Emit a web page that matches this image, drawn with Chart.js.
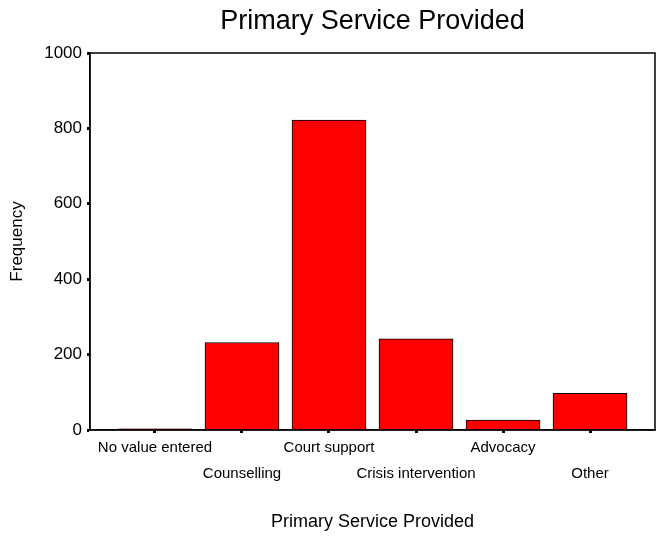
<!DOCTYPE html>
<html>
<head>
<meta charset="utf-8">
<script src="https://cdn.jsdelivr.net/npm/chart.js@4"></script>
<style>
  html, body { margin: 0; padding: 0; background: #fff; }
  #wrap { width: 658px; height: 539px; }
</style>
</head>
<body>
<div id="wrap"><canvas id="myChart"></canvas></div>
<script>
const categories = ['No value entered', 'Counselling', 'Court support', 'Crisis intervention', 'Advocacy', 'Other'];
const frequency = [3, 232, 822, 242, 26, 97];
const yTicks = [0, 200, 400, 600, 800, 1000];

const ctx = document.getElementById('myChart').getContext('2d');
Chart.defaults.font.family = '"Liberation Sans", Arial, sans-serif';
Chart.defaults.color = '#000';

// box round the plot area, top and right sides too
const frame = {
    id: 'frame',
    afterLayout(chart) {
        // centre the title over the plot area, not the whole canvas
        const t = chart.titleBlock;
        if (t) {
            t.left = chart.chartArea.left;
            t.right = chart.chartArea.right;
            t.width = t.right - t.left;
        }
    },
    afterDraw(chart) {
        const a = chart.chartArea;
        const c = chart.ctx;
        c.save();
        c.strokeStyle = '#000';
        c.lineWidth = 1.5;
        c.strokeRect(a.left, a.top, a.right - a.left, a.bottom - a.top);
        c.restore();
    }
};

const points = [];
for (let i = 0; i < categories.length; i++) {
    points.push({ x: i, y: frequency[i] });
}

const config = {
    type: 'bar',
    data: {
        datasets: [{
            label: 'Frequency',
            data: points,
            backgroundColor: '#ff0000',
            borderColor: '#000',
            borderWidth: 1,
            barThickness: 74,
        }]
    },
    options: {
        responsive: true,
        maintainAspectRatio: false,
        animation: false,
        layout: { padding: { right: 3 } },
        plugins: {
            legend: { display: false },
            tooltip: { enabled: false },
            title: {
                display: true,
                text: 'Primary Service Provided',
                font: { size: 27, weight: 'normal' },
                padding: { top: 5, bottom: 15.6 },
            },
        },
        scales: {
            x: {
                type: 'linear',
                min: -0.747,
                max: 5.747,
                offset: false,
                afterFit(scale) { scale.height = 109; },
                afterBuildTicks(scale) {
                    scale.ticks = categories.map((c, i) => ({ value: i }));
                },
                ticks: {
                    includeBounds: false,
                    autoSkip: false,
                    maxRotation: 0,
                    padding: 2,
                    font: { size: 15, lineHeight: 26 / 15 },
                    callback: function (value) {
                        const i = Math.round(value);
                        return i % 2 === 0 ? [categories[i]] : ['', categories[i]];
                    },
                },
                grid: {
                    offset: false,
                    drawOnChartArea: false,
                    drawTicks: true,
                    tickLength: 3,
                    tickWidth: 3,
                    tickColor: '#000',
                },
                border: { display: true, color: '#000', width: 1.5 },
                title: {
                    display: true,
                    text: 'Primary Service Provided',
                    font: { size: 18 },
                    padding: { top: 0, bottom: 6 },
                },
            },
            y: {
                min: 0,
                max: 1000,
                afterFit(scale) { scale.width = 90; },
                afterBuildTicks(scale) {
                    scale.ticks = yTicks.map(v => ({ value: v }));
                },
                ticks: {
                    padding: 5,
                    font: { size: 17 },
                    callback: v => String(v),
                },
                grid: {
                    drawOnChartArea: false,
                    drawTicks: true,
                    tickLength: 3,
                    tickWidth: 3,
                    tickColor: '#000',
                },
                border: { display: true, color: '#000', width: 1.5 },
                title: {
                    display: true,
                    text: 'Frequency',
                    font: { size: 17 },
                    padding: { top: 7, bottom: 0 },
                },
            },
        },
    },
    plugins: [frame],
};

const barChart = new Chart(ctx, config);
</script>
</body>
</html>
